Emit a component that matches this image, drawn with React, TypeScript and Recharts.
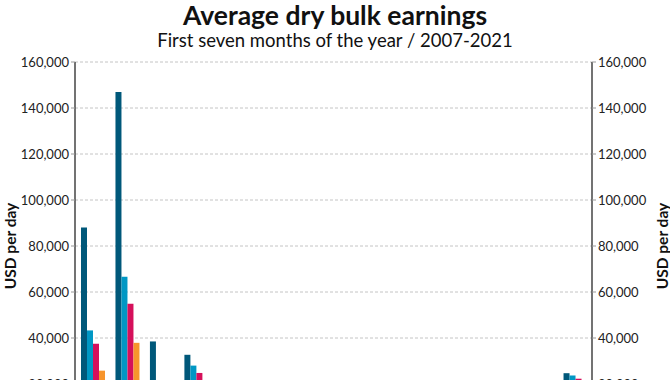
import { ComposedChart, Bar, Line, XAxis, YAxis, CartesianGrid } from 'recharts';

const years = [
  '2007', '2008', '2009', '2010', '2011', '2012', '2013', '2014',
  '2015', '2016', '2017', '2018', '2019', '2020', '2021',
];

// USD per day, Jan-Jul average
const capesize = [88000, 147000, 38500, 32700, 12500, 7800, 9000, 12500, 5000, 4900, 12800, 14000, 11000, 11500, 24700];
const panamax = [43300, 66600, 15000, 28000, 14000, 7500, 8000, 7200, 5500, 5000, 10500, 11500, 10500, 8500, 23700];
const supramax = [37500, 54900, 13500, 24800, 14500, 9500, 9000, 10500, 7500, 5500, 9500, 11500, 9500, 8500, 22300];
const handysize = [25800, 37900, 10000, 18000, 12000, 7500, 7500, 8500, 6000, 4500, 7500, 9500, 8000, 7500, 20500];

const yTicks = [0, 20000, 40000, 60000, 80000, 100000, 120000, 140000, 160000];

const series = [
  { key: 'capesize', name: 'Capesize', color: '#00587a' },
  { key: 'panamax', name: 'Panamax', color: '#0097c4' },
  { key: 'supramax', name: 'Supramax', color: '#d5105b' },
  { key: 'handysize', name: 'Handysize', color: '#f7952c' },
];

const data = years.map((year, i) => ({
  year,
  capesize: capesize[i],
  panamax: panamax[i],
  supramax: supramax[i],
  handysize: handysize[i],
}));

const fmt = (v: number) => v.toLocaleString('en-US');

function AxisTitle(props: any) {
  const { viewBox, side } = props;
  if (!viewBox) return null;
  const cx = side === 'left' ? viewBox.x + 10 : viewBox.x + 70;
  const cy = viewBox.y + viewBox.height / 2;
  return (
    <text
      x={cx}
      y={cy}
      transform={`rotate(-90 ${cx} ${cy})`}
      textAnchor="middle"
      dominantBaseline="central"
      fontSize={15.5}
      fontWeight={700}
      fill="#111"
    >
      USD per day
    </text>
  );
}

export default function App() {
  return (
    <div
      style={{
        position: 'absolute',
        left: 0,
        top: 0,
        width: 670,
        height: 500,
        fontFamily: 'Lato, sans-serif',
        background: '#fff',
      }}
    >
      <div
        style={{
          position: 'absolute',
          top: 0,
          width: 670,
          textAlign: 'center',
          fontSize: 26.5,
          fontWeight: 700,
          color: '#111',
          lineHeight: '30px',
        }}
      >
        Average dry bulk earnings
      </div>
      <div
        style={{
          position: 'absolute',
          top: 29,
          width: 670,
          textAlign: 'center',
          fontSize: 18.5,
          color: '#111',
          lineHeight: '22px',
        }}
      >
        First seven months of the year / 2007-2021
      </div>
      <ComposedChart
        width={670}
        height={470}
        data={data}
        margin={{ top: 62, right: 0, bottom: 10, left: 0 }}
        barCategoryGap={6}
        barGap={0}
      >
        <CartesianGrid
          vertical={false}
          stroke="#c4c4c4"
          strokeDasharray="3 2"
          yAxisId="left"
        />
        <XAxis
          dataKey="year"
          stroke="#444"
          strokeWidth={1.5}
          tickLine={false}
          tick={{ fill: '#222', fontSize: 13 }}
          height={30}
        />
        <YAxis
          yAxisId="left"
          width={75}
          domain={[0, 160000]}
          ticks={yTicks}
          tickFormatter={fmt}
          stroke="#444"
          strokeWidth={1.5}
          tickSize={4}
          tickLine={{ stroke: '#999', strokeWidth: 1 }}
          tick={{ fill: '#222', fontSize: 13 }}
          label={{ content: <AxisTitle side="left" /> }}
        />
        <YAxis
          yAxisId="right"
          orientation="right"
          width={78}
          domain={[0, 160000]}
          ticks={yTicks}
          tickFormatter={fmt}
          stroke="#444"
          strokeWidth={1.5}
          tickSize={4}
          tickLine={{ stroke: '#999', strokeWidth: 1 }}
          tick={{ fill: '#222', fontSize: 13 }}
          label={{ content: <AxisTitle side="right" /> }}
        />
        {series.map((s) => (
          <Bar
            key={s.key}
            yAxisId="left"
            dataKey={s.key}
            name={s.name}
            fill={s.color}
            isAnimationActive={false}
          />
        ))}
        <Line
          yAxisId="right"
          dataKey="capesize"
          stroke="none"
          dot={false}
          activeDot={false}
          legendType="none"
          isAnimationActive={false}
        />
      </ComposedChart>
      <div
        style={{
          position: 'absolute',
          top: 470,
          width: 670,
          display: 'flex',
          justifyContent: 'center',
          gap: 18,
          fontSize: 14,
          color: '#222',
        }}
      >
        {series.map((s) => (
          <span key={s.key} style={{ display: 'flex', alignItems: 'center', gap: 5 }}>
            <span style={{ width: 12, height: 12, background: s.color, display: 'inline-block' }} />
            {s.name}
          </span>
        ))}
      </div>
    </div>
  );
}
